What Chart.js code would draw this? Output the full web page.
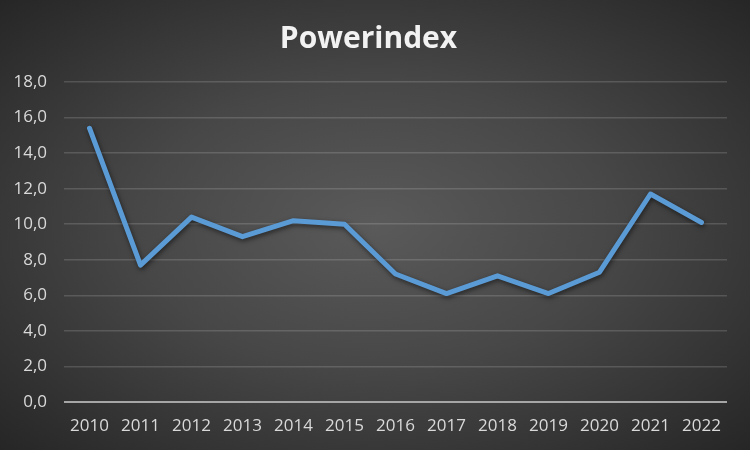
<!DOCTYPE html>
<html>
<head>
<meta charset="utf-8">
<script src="https://cdn.jsdelivr.net/npm/chart.js@4"></script>
<style>
  html, body { margin: 0; padding: 0; }
  body {
    width: 750px; height: 450px;
    background: radial-gradient(ellipse at 50% 50%, #5a5a5a 0%, #474747 45%, #262626 100%);
  }
  #wrap { width: 750px; height: 450px; }
</style>
</head>
<body>
<div id="wrap"><canvas id="powerChart"></canvas></div>
<script>
// Data
const years = ['2010', '2011', '2012', '2013', '2014', '2015', '2016', '2017', '2018', '2019', '2020', '2021', '2022'];
const powerIndex = [15.4, 7.7, 10.4, 9.3, 10.2, 10.0, 7.2, 6.1, 7.1, 6.1, 7.3, 11.7, 10.1];
const yMin = 0;
const yMax = 18;
const yStep = 2;

// soft shadow under the line, like the original
const shadows = {
    id: 'shadows',
    beforeDatasetDraw(chart) {
        const ctx = chart.ctx;
        ctx.save();
        ctx.shadowColor = 'rgba(0, 0, 0, 0.55)';
        ctx.shadowBlur = 5;
        ctx.shadowOffsetX = 1;
        ctx.shadowOffsetY = 2;
    },
    afterDatasetDraw(chart) {
        chart.ctx.restore();
    }
};

function initChart() {
    const ctx = document.getElementById('powerChart').getContext('2d');
    new Chart(ctx, {
        type: 'line',
        data: {
            labels: years,
            datasets: [{
                label: 'Powerindex',
                data: powerIndex,
                borderColor: '#5b9bd5',
                borderWidth: 5,
                pointRadius: 0,
                tension: 0,
                borderJoinStyle: 'round',
                borderCapStyle: 'round'
            }]
        },
        options: {
            responsive: true,
            maintainAspectRatio: false,
            animation: false,
            layout: {
                padding: { left: 10, right: 23, top: 21, bottom: 3 }
            },
            plugins: {
                legend: { display: false },
                tooltip: { enabled: false },
                title: {
                    display: true,
                    text: 'Powerindex',
                    color: '#f2f2f2',
                    font: { family: 'Open Sans', size: 30, weight: 'bold' },
                    padding: { top: 0, bottom: 25 }
                }
            },
            scales: {
                x: {
                    offset: true,
                    afterFit: scale => { scale.height = 45; },
                    grid: { display: false, drawTicks: false },
                    border: { display: false },
                    ticks: {
                        color: '#d9d9d9',
                        font: { family: 'Open Sans', size: 17 },
                        padding: 14,
                        maxRotation: 0,
                        autoSkip: false
                    }
                },
                y: {
                    min: yMin,
                    max: yMax,
                    afterFit: scale => { scale.width = 54; },
                    grid: {
                        drawTicks: false,
                        lineWidth: c => c.tick && c.tick.value === 0 ? 2 : 1.5,
                        color: c => c.tick && c.tick.value === 0 ? '#a6a6a6' : 'rgba(255, 255, 255, 0.15)'
                    },
                    border: { display: false },
                    ticks: {
                        stepSize: yStep,
                        color: '#d9d9d9',
                        font: { family: 'Open Sans', size: 17 },
                        padding: 17,
                        callback: v => v.toFixed(1).replace('.', ',')
                    }
                }
            }
        },
        plugins: [shadows]
    });
}

document.addEventListener('DOMContentLoaded', initChart);
</script>
</body>
</html>
